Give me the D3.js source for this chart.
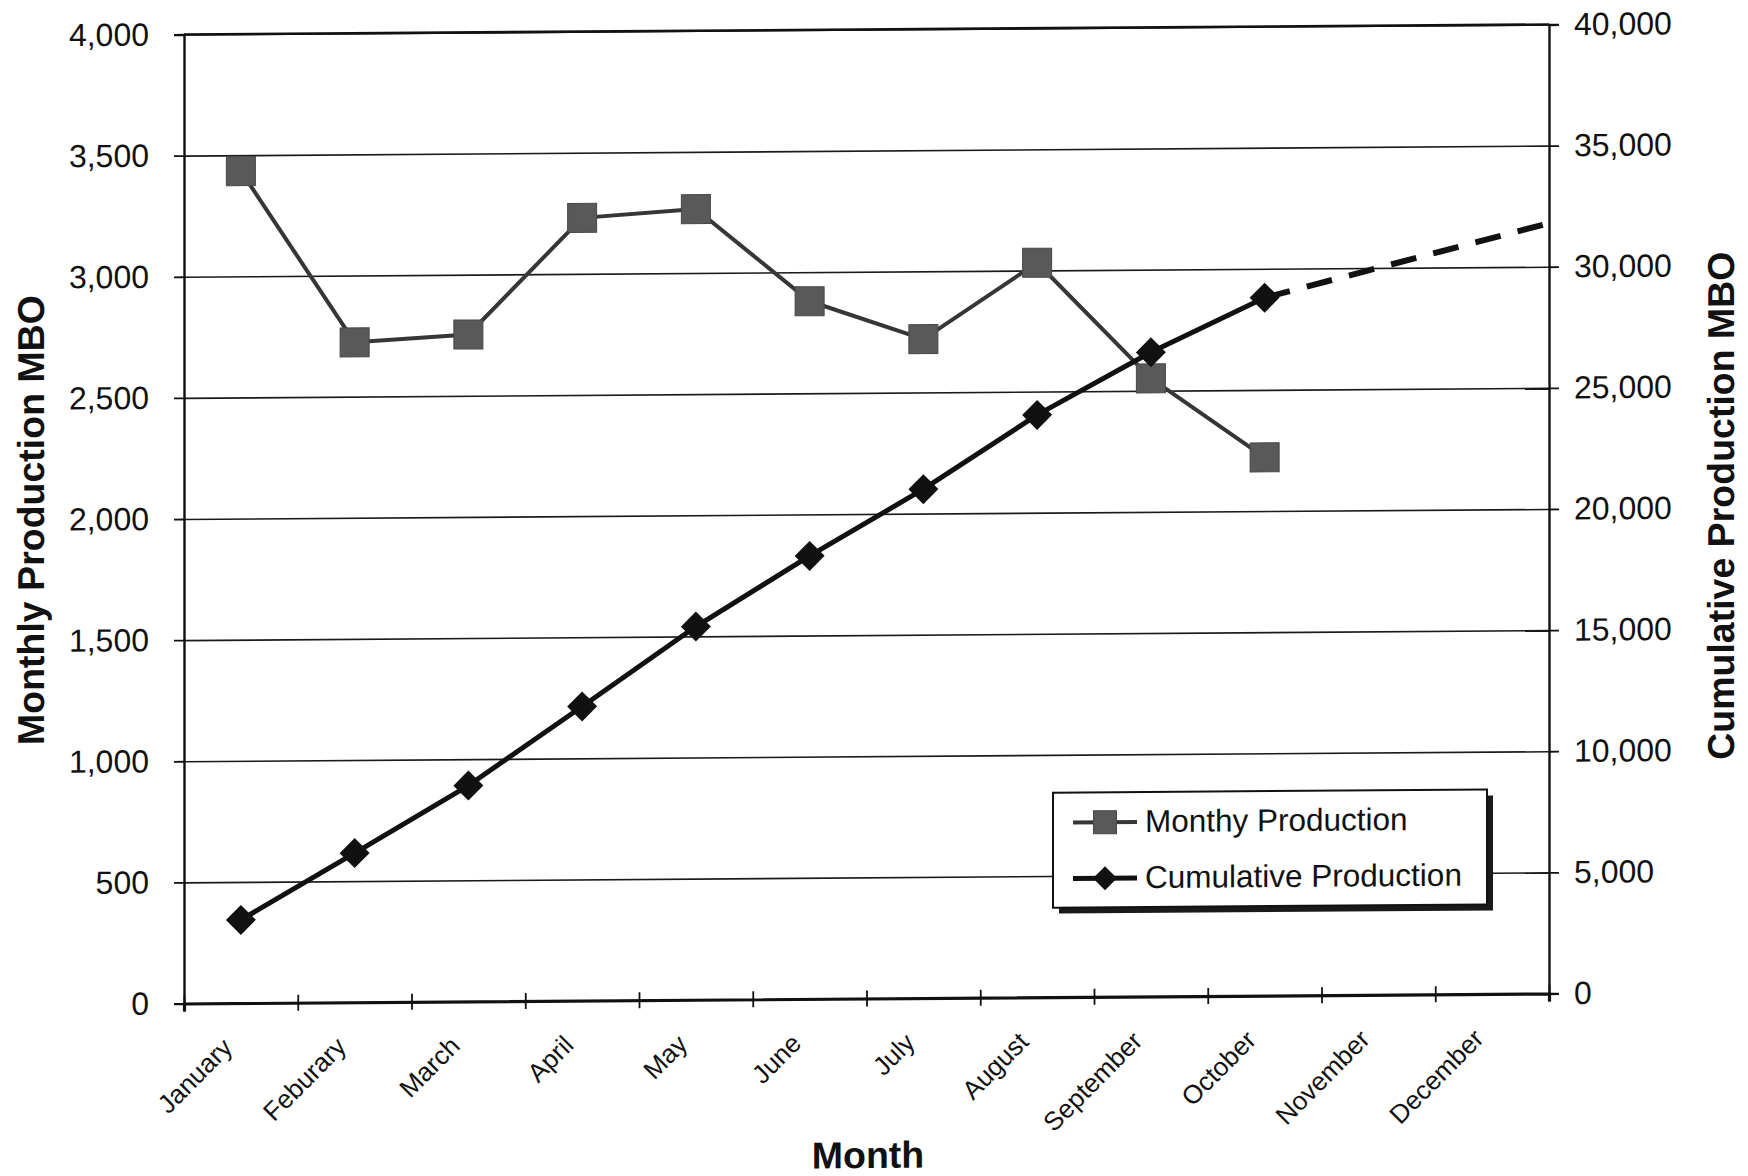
<!DOCTYPE html>
<html>
<head>
<meta charset="utf-8">
<script src="https://cdn.jsdelivr.net/npm/d3@7"></script>
<style>
  html, body { margin: 0; padding: 0; background: #fff; }
  svg { display: block; }
  text { font-family: "Liberation Sans", Arial, Helvetica, sans-serif; fill: #111; }
</style>
</head>
<body>
<svg id="chart" width="1748" height="1176"></svg>
<script>
// Monthly oil production (MBO) and its running total for the year.
const months = ["January", "Feburary", "March", "April", "May", "June",
                "July", "August", "September", "October", "November", "December"];
const monthlyProduction = [3434, 2724, 2753, 3231, 3264, 2880, 2720, 3032, 2551, 2222];
const cumulativeProduction = [3434, 6158, 8911, 12142, 15406, 18286, 21006, 24038, 26589, 28811];
// Projected cumulative to year end (position in months from Jan start).
const projectionPos = [9.5, 12];
const projectionValue = [28811, 31800];
const monthlyTicks = [0, 500, 1000, 1500, 2000, 2500, 3000, 3500, 4000];
const cumulativeTicks = [0, 5000, 10000, 15000, 20000, 25000, 30000, 35000, 40000];
const legendLabels = ["Monthy Production", "Cumulative Production"];

const W = 1748, H = 1176;
const plot = { left: 184, right: 1549, top: 29.5, bottom: 998.5 };
const pw = plot.right - plot.left, ph = plot.bottom - plot.top;
const cx = (plot.left + plot.right) / 2;
const skew = -0.00733;

const svg = d3.select("#chart");
svg.append("rect").attr("width", W).attr("height", H).attr("fill", "#fff");

// whole chart sits slightly sloped on the page
const root = svg.append("g")
  .attr("transform", `matrix(1,${skew},0,1,0,${-skew * cx})`);

const x = d3.scaleLinear().domain([0, 12]).range([0, pw]);
const yL = d3.scaleLinear().domain([0, 4000]).range([ph, 0]);
const yR = d3.scaleLinear().domain([0, 40000]).range([ph, 0]);

const g = root.append("g").attr("transform", `translate(${plot.left},${plot.top})`);

// horizontal gridlines
g.append("g").attr("class", "grid")
  .call(d3.axisLeft(yL).tickValues(monthlyTicks).tickSize(-pw).tickFormat(""))
  .call(s => s.select(".domain").remove())
  .call(s => s.selectAll("line").attr("stroke", "#1a1a1a").attr("stroke-width", 1.6));

// top border
g.append("line").attr("x1", 0).attr("x2", pw).attr("y1", 0).attr("y2", 0)
  .attr("stroke", "#111").attr("stroke-width", 2.6);

// left axis
const axL = g.append("g")
  .call(d3.axisLeft(yL).tickValues(monthlyTicks).tickSize(10).tickPadding(25)
    .tickFormat(d3.format(",")));
axL.select(".domain").attr("stroke", "#111").attr("stroke-width", 2.4);
axL.selectAll(".tick line").attr("stroke", "#111").attr("stroke-width", 1.8);
axL.selectAll(".tick text").attr("font-size", 32).attr("fill", "#111")
  .attr("font-family", "Liberation Sans, Arial, sans-serif");

// right axis
const axR = g.append("g").attr("transform", `translate(${pw},0)`)
  .call(d3.axisRight(yR).tickValues(cumulativeTicks).tickSize(10).tickPadding(15)
    .tickFormat(d3.format(",")));
axR.select(".domain").attr("stroke", "#111").attr("stroke-width", 2.4);
axR.selectAll(".tick line").attr("stroke", "#111").attr("stroke-width", 1.8);
axR.selectAll(".tick text").attr("font-size", 32).attr("fill", "#111")
  .attr("font-family", "Liberation Sans, Arial, sans-serif");

// bottom axis: boundary ticks cross the axis line, labels at month centres
const axB = g.append("g").attr("transform", `translate(0,${ph})`)
  .call(d3.axisBottom(x).tickValues(d3.range(13)).tickSize(8).tickFormat(""));
axB.select(".domain").attr("stroke", "#111").attr("stroke-width", 3.2);
axB.selectAll(".tick line").attr("y1", -8).attr("y2", 8)
  .attr("stroke", "#111").attr("stroke-width", 1.8);

g.append("g").selectAll("text").data(months).join("text")
  .attr("transform", (d, i) => `translate(${x(i + 0.5) - 7},${ph + 46}) rotate(-45)`)
  .attr("text-anchor", "end")
  .attr("font-size", 26)
  .text(d => d);

// monthly production series
const lineL = d3.line().x((d, i) => x(i + 0.5)).y(d => yL(d));
g.append("path").datum(monthlyProduction)
  .attr("d", lineL).attr("fill", "none")
  .attr("stroke", "#363636").attr("stroke-width", 4).attr("stroke-linejoin", "round");
const sq = 29;
g.append("g").selectAll("rect").data(monthlyProduction).join("rect")
  .attr("x", (d, i) => x(i + 0.5) - sq / 2)
  .attr("y", d => yL(d) - sq / 2)
  .attr("width", sq).attr("height", sq)
  .attr("fill", "#595959").attr("stroke", "#474747").attr("stroke-width", 1);

// projected cumulative (dashed)
const projPts = projectionPos.map((p, i) => [x(p), yR(projectionValue[i])]);
g.append("path").attr("d", d3.line()(projPts))
  .attr("fill", "none").attr("stroke", "#111").attr("stroke-width", 6)
  .attr("stroke-dasharray", "26 17.5");

// cumulative production series
const lineR = d3.line().x((d, i) => x(i + 0.5)).y(d => yR(d));
g.append("path").datum(cumulativeProduction)
  .attr("d", lineR).attr("fill", "none")
  .attr("stroke", "#111").attr("stroke-width", 5).attr("stroke-linejoin", "round");
const dm = 15;
const diamond = `M0,${-dm}L${dm},0L0,${dm}L${-dm},0Z`;
g.append("g").selectAll("path").data(cumulativeProduction).join("path")
  .attr("transform", (d, i) => `translate(${x(i + 0.5)},${yR(d)})`)
  .attr("d", diamond).attr("fill", "#111");

// axis titles
root.append("text")
  .attr("transform", `translate(44,${plot.top + ph / 2}) rotate(-90)`)
  .attr("text-anchor", "middle").attr("font-size", 37.5).attr("font-weight", "bold")
  .text("Monthly Production MBO");
root.append("text")
  .attr("transform", `translate(1734,${plot.top + ph / 2 - 2}) rotate(-90)`)
  .attr("text-anchor", "middle").attr("font-size", 37.5).attr("font-weight", "bold")
  .text("Cumulative Production MBO");
root.append("text")
  .attr("x", 868).attr("y", 1168)
  .attr("text-anchor", "middle").attr("font-size", 37.5).attr("font-weight", "bold")
  .text("Month");

// legend
const lg = { left: 1053, top: 794, w: 434, h: 115 };
const leg = root.append("g").attr("transform", `translate(${lg.left},${lg.top})`);
leg.append("rect").attr("x", 6).attr("y", 6).attr("width", lg.w).attr("height", lg.h)
  .attr("fill", "#1a1a1a");
leg.append("rect").attr("width", lg.w).attr("height", lg.h)
  .attr("fill", "#fff").attr("stroke", "#111").attr("stroke-width", 2);
const rows = [40, 96];
legendLabels.forEach((label, i) => {
  const ry = rows[i] - 10;
  leg.append("line").attr("x1", 20).attr("x2", 84).attr("y1", ry).attr("y2", ry)
    .attr("stroke", i === 0 ? "#363636" : "#111").attr("stroke-width", i === 0 ? 4 : 5);
  if (i === 0) {
    leg.append("rect").attr("x", 52 - 11.5).attr("y", ry - 11.5)
      .attr("width", 23).attr("height", 23)
      .attr("fill", "#595959").attr("stroke", "#474747");
  } else {
    leg.append("path").attr("transform", `translate(52,${ry})`)
      .attr("d", `M0,-12L12,0L0,12L-12,0Z`).attr("fill", "#111");
  }
  leg.append("text").attr("x", 92).attr("y", rows[i])
    .attr("font-size", 31.5).text(label);
});
</script>
</body>
</html>
